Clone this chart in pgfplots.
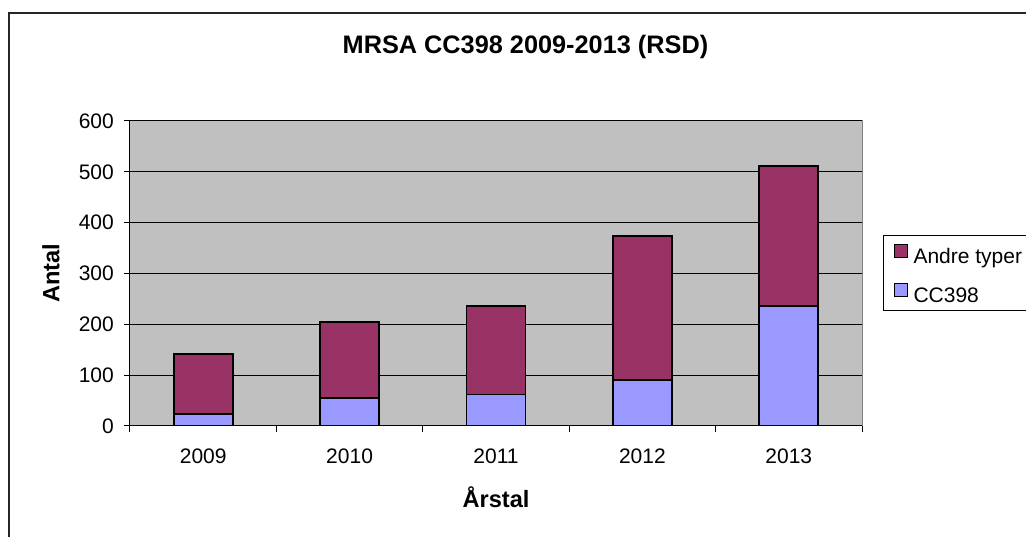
\documentclass[border=0pt]{standalone}
\usepackage{pgfplots}
\pgfplotsset{compat=1.18}
\usepackage{fontspec}
\setmainfont{Liberation Sans}
\definecolor{plum}{RGB}{153,51,102}
\definecolor{peri}{RGB}{153,153,255}
\definecolor{plotbg}{RGB}{192,192,192}
\begin{document}
\begin{tikzpicture}[x=1pt,y=1pt]
\path[use as bounding box, clip] (0,0) rectangle (1026,537);
\draw[line width=1.4pt, black!85] (9,-20) -- (9,524) -- (1100,524);
\node[font=\bfseries\fontsize{25.3}{30}\selectfont, anchor=base] at (525.5,483) {MRSA CC398 2009-2013 (RSD)};
\begin{axis}[
  at={(130pt,111pt)}, anchor=south west,
  scale only axis, width=732pt, height=305pt,
  ybar stacked, bar width=59pt,
  xmin=-0.5, xmax=4.5, ymin=0, ymax=600,
  enlargelimits=false,
  axis lines=left,
  axis line style={-, black, line width=1pt},
  axis background/.style={fill=plotbg, draw=gray, line width=1pt},
  xtick={-0.5,0.5,1.5,2.5,3.5,4.5},
  xticklabels={2009,2010,2011,2012,2013},
  x tick label as interval,
  ytick={0,100,...,600},
  tick align=outside,
  major tick length=6pt,
  tick style={black, line width=1pt},
  ymajorgrids, xmajorgrids=false,
  major grid style={black, line width=1pt},
  /pgf/number format/assume math mode=true,
  tick label style={font=\fontsize{21}{25}\selectfont},
  xticklabel style={anchor=base, yshift=-32pt},
  yticklabel style={anchor=east, inner sep=0pt, xshift=-10pt},
  xlabel={Årstal},
  ylabel={Antal},
  label style={font=\bfseries\fontsize{23.6}{28}\selectfont},
  xlabel style={at={(axis description cs:0.5,-0.2656)}, anchor=base},
  ylabel style={at={(axis description cs:-0.0966,0.5)}, anchor=base},
  reverse legend,
  legend cell align=left,
  legend image code/.code={\draw[#1, draw=black, line width=1pt] (0pt,-1.5pt) rectangle (13pt,11.5pt);},
  legend style={at={(axis description cs:1.0287,0.6262)}, anchor=north west,
    draw=black, fill=white, line width=1pt,
    font=\fontsize{21}{25}\selectfont,
    nodes={inner sep=0pt, text height=15pt, text depth=0pt},
    row sep=20pt, column sep=6pt, inner xsep=10pt, inner ysep=8pt},
]
\addplot[fill=peri, draw=black, line width=1.8pt] coordinates {(0,24) (1,55) (2,62) (3,90) (4,236)};
\addplot[fill=plum, draw=black, line width=1.8pt] coordinates {(0,118) (1,150) (2,174) (3,284) (4,276)};
\legend{CC398, Andre typer}
\end{axis}
\end{tikzpicture}
\end{document}
